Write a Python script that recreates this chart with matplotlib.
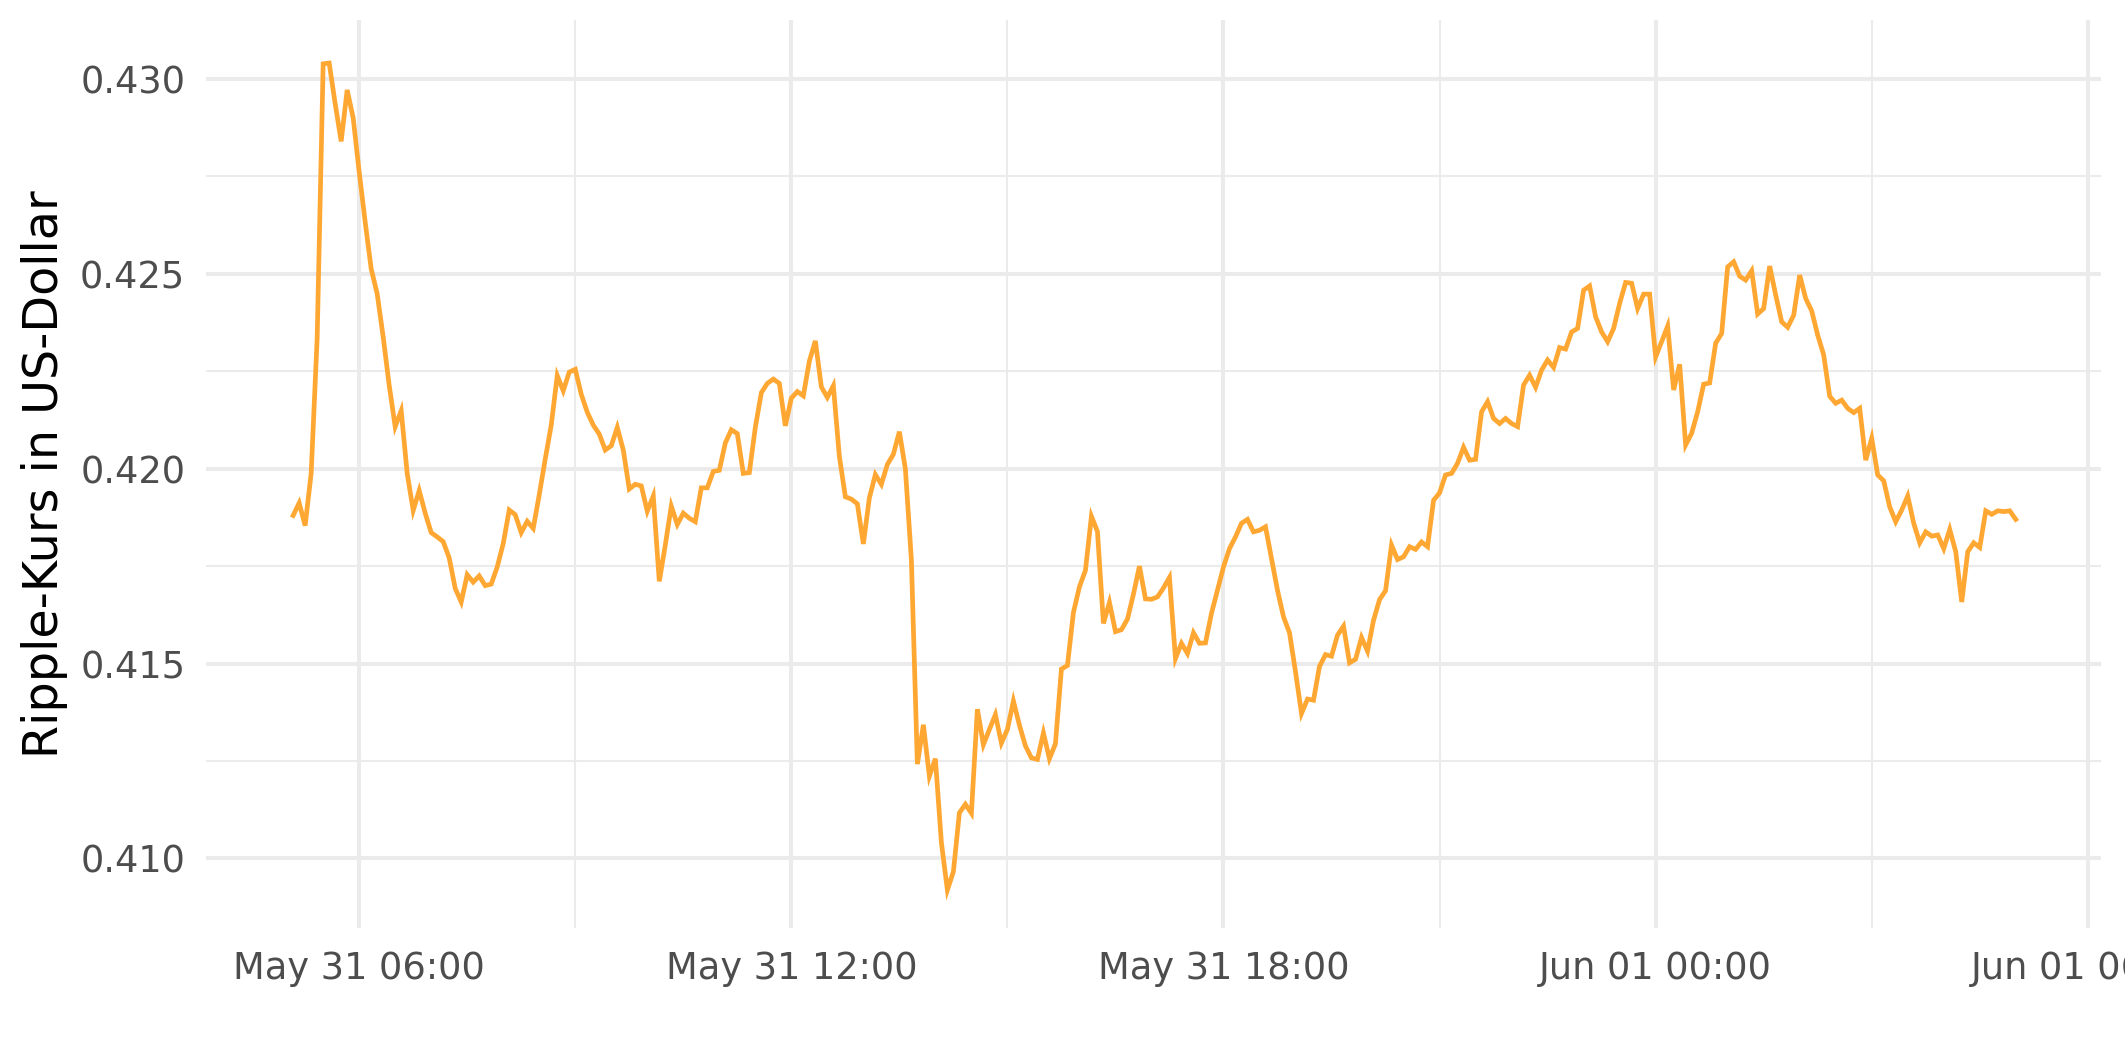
import matplotlib
matplotlib.use("Agg")
import matplotlib.pyplot as plt
import matplotlib.dates as mdates
from matplotlib.ticker import MultipleLocator
import pandas as pd

# Ripple price in USD, one value every 5 minutes from May 31 05:05
START = "2024-05-31 05:05"
STEP = "5min"
prices = [
    0.41880, 0.41912, 0.41854, 0.41988, 0.42335, 0.43039, 0.43041, 0.42937,
    0.42840, 0.42972, 0.42900, 0.42762, 0.42633, 0.42513, 0.42449, 0.42338,
    0.42214, 0.42108, 0.42149, 0.41988, 0.41893, 0.41944, 0.41886, 0.41836,
    0.41825, 0.41813, 0.41771, 0.41693, 0.41658, 0.41728, 0.41709, 0.41725,
    0.41700, 0.41704, 0.41748, 0.41808, 0.41894, 0.41882, 0.41836, 0.41865,
    0.41847, 0.41933, 0.42025, 0.42112, 0.42239, 0.42200, 0.42248, 0.42255,
    0.42191, 0.42145, 0.42112, 0.42089, 0.42048, 0.42059, 0.42106, 0.42048,
    0.41948, 0.41960, 0.41956, 0.41891, 0.41930, 0.41711, 0.41804, 0.41904,
    0.41857, 0.41886, 0.41873, 0.41864, 0.41951, 0.41951, 0.41993, 0.41996,
    0.42066, 0.42100, 0.42090, 0.41988, 0.41990, 0.42106, 0.42195, 0.42219,
    0.42230, 0.42219, 0.42110, 0.42181, 0.42198, 0.42187, 0.42276, 0.42328,
    0.42210, 0.42183, 0.42213, 0.42032, 0.41928, 0.41922, 0.41910, 0.41807,
    0.41925, 0.41985, 0.41960, 0.42011, 0.42037, 0.42095, 0.42000, 0.41767,
    0.41242, 0.41343, 0.41211, 0.41256, 0.41041, 0.40919, 0.40966, 0.41117,
    0.41139, 0.41116, 0.41383, 0.41292, 0.41331, 0.41369, 0.41296, 0.41331,
    0.41404, 0.41342, 0.41289, 0.41258, 0.41254, 0.41322, 0.41256, 0.41294,
    0.41486, 0.41495, 0.41631, 0.41697, 0.41739, 0.41878, 0.41839, 0.41603,
    0.41657, 0.41582, 0.41587, 0.41614, 0.41678, 0.41750, 0.41666, 0.41665,
    0.41671, 0.41694, 0.41721, 0.41513, 0.41552, 0.41526, 0.41579, 0.41552,
    0.41553, 0.41629, 0.41688, 0.41748, 0.41795, 0.41825, 0.41860, 0.41870,
    0.41838, 0.41842, 0.41851, 0.41770, 0.41688, 0.41620, 0.41579, 0.41479,
    0.41372, 0.41409, 0.41406, 0.41493, 0.41523, 0.41519, 0.41573, 0.41596,
    0.41502, 0.41511, 0.41567, 0.41532, 0.41611, 0.41664, 0.41687, 0.41804,
    0.41767, 0.41774, 0.41800, 0.41793, 0.41812, 0.41800, 0.41919, 0.41938,
    0.41984, 0.41988, 0.42014, 0.42055, 0.42022, 0.42024, 0.42146, 0.42172,
    0.42129, 0.42116, 0.42129, 0.42116, 0.42108, 0.42215, 0.42240, 0.42209,
    0.42253, 0.42279, 0.42260, 0.42311, 0.42307, 0.42351, 0.42360, 0.42458,
    0.42469, 0.42390, 0.42351, 0.42326, 0.42360, 0.42424, 0.42478, 0.42476,
    0.42411, 0.42448, 0.42448, 0.42287, 0.42326, 0.42366, 0.42202, 0.42268,
    0.42061, 0.42091, 0.42146, 0.42217, 0.42220, 0.42322, 0.42347, 0.42518,
    0.42531, 0.42494, 0.42484, 0.42508, 0.42397, 0.42411, 0.42520, 0.42446,
    0.42377, 0.42363, 0.42394, 0.42497, 0.42437, 0.42405, 0.42343, 0.42292,
    0.42186, 0.42168, 0.42176, 0.42155, 0.42144, 0.42155, 0.42022, 0.42078,
    0.41984, 0.41969, 0.41902, 0.41864, 0.41894, 0.41930, 0.41860, 0.41810,
    0.41838, 0.41827, 0.41830, 0.41795, 0.41844, 0.41787, 0.41658, 0.41787,
    0.41810, 0.41798, 0.41892, 0.41883, 0.41892, 0.41890, 0.41892, 0.41870,
]
times = pd.date_range(START, periods=len(prices), freq=STEP)

LINE_COLOR = "#ffa733"
GRID_COLOR = "#ebebeb"
TEXT_COLOR = "#4d4d4d"

fig = plt.figure(figsize=(21.25, 10.62), dpi=100)
ax = fig.add_axes([0.097, 0.126, 0.8917, 0.855])

ax.plot(times, prices, color=LINE_COLOR, linewidth=3.4, solid_joinstyle="miter")

ax.set_xlim(pd.Timestamp("2024-05-31 03:52:30"), pd.Timestamp("2024-06-01 06:11"))
ax.set_ylim(0.40821, 0.43151)

ax.xaxis.set_major_locator(mdates.HourLocator(byhour=[0, 6, 12, 18]))
ax.xaxis.set_minor_locator(mdates.HourLocator(byhour=[3, 9, 15, 21]))
ax.xaxis.set_major_formatter(mdates.DateFormatter("%b %d %H:%M"))
ax.yaxis.set_major_locator(MultipleLocator(0.005))
ax.yaxis.set_minor_locator(MultipleLocator(0.0025))
ax.yaxis.set_major_formatter(matplotlib.ticker.FormatStrFormatter("%.3f"))

ax.grid(which="major", color=GRID_COLOR, linewidth=2.9)
ax.grid(which="minor", color=GRID_COLOR, linewidth=1.5)
ax.set_axisbelow(True)
for s in ax.spines.values():
    s.set_visible(False)

ax.tick_params(which="both", length=0)
ax.tick_params(axis="y", labelsize=26.5, labelcolor=TEXT_COLOR, pad=15)
ax.tick_params(axis="x", labelsize=26.5, labelcolor=TEXT_COLOR, pad=16)

ax.set_ylabel("Ripple-Kurs in US-Dollar", fontsize=34.3, color="black")
ax.yaxis.set_label_coords(-0.073, 0.5)

fig.savefig("out.png", dpi=100)
